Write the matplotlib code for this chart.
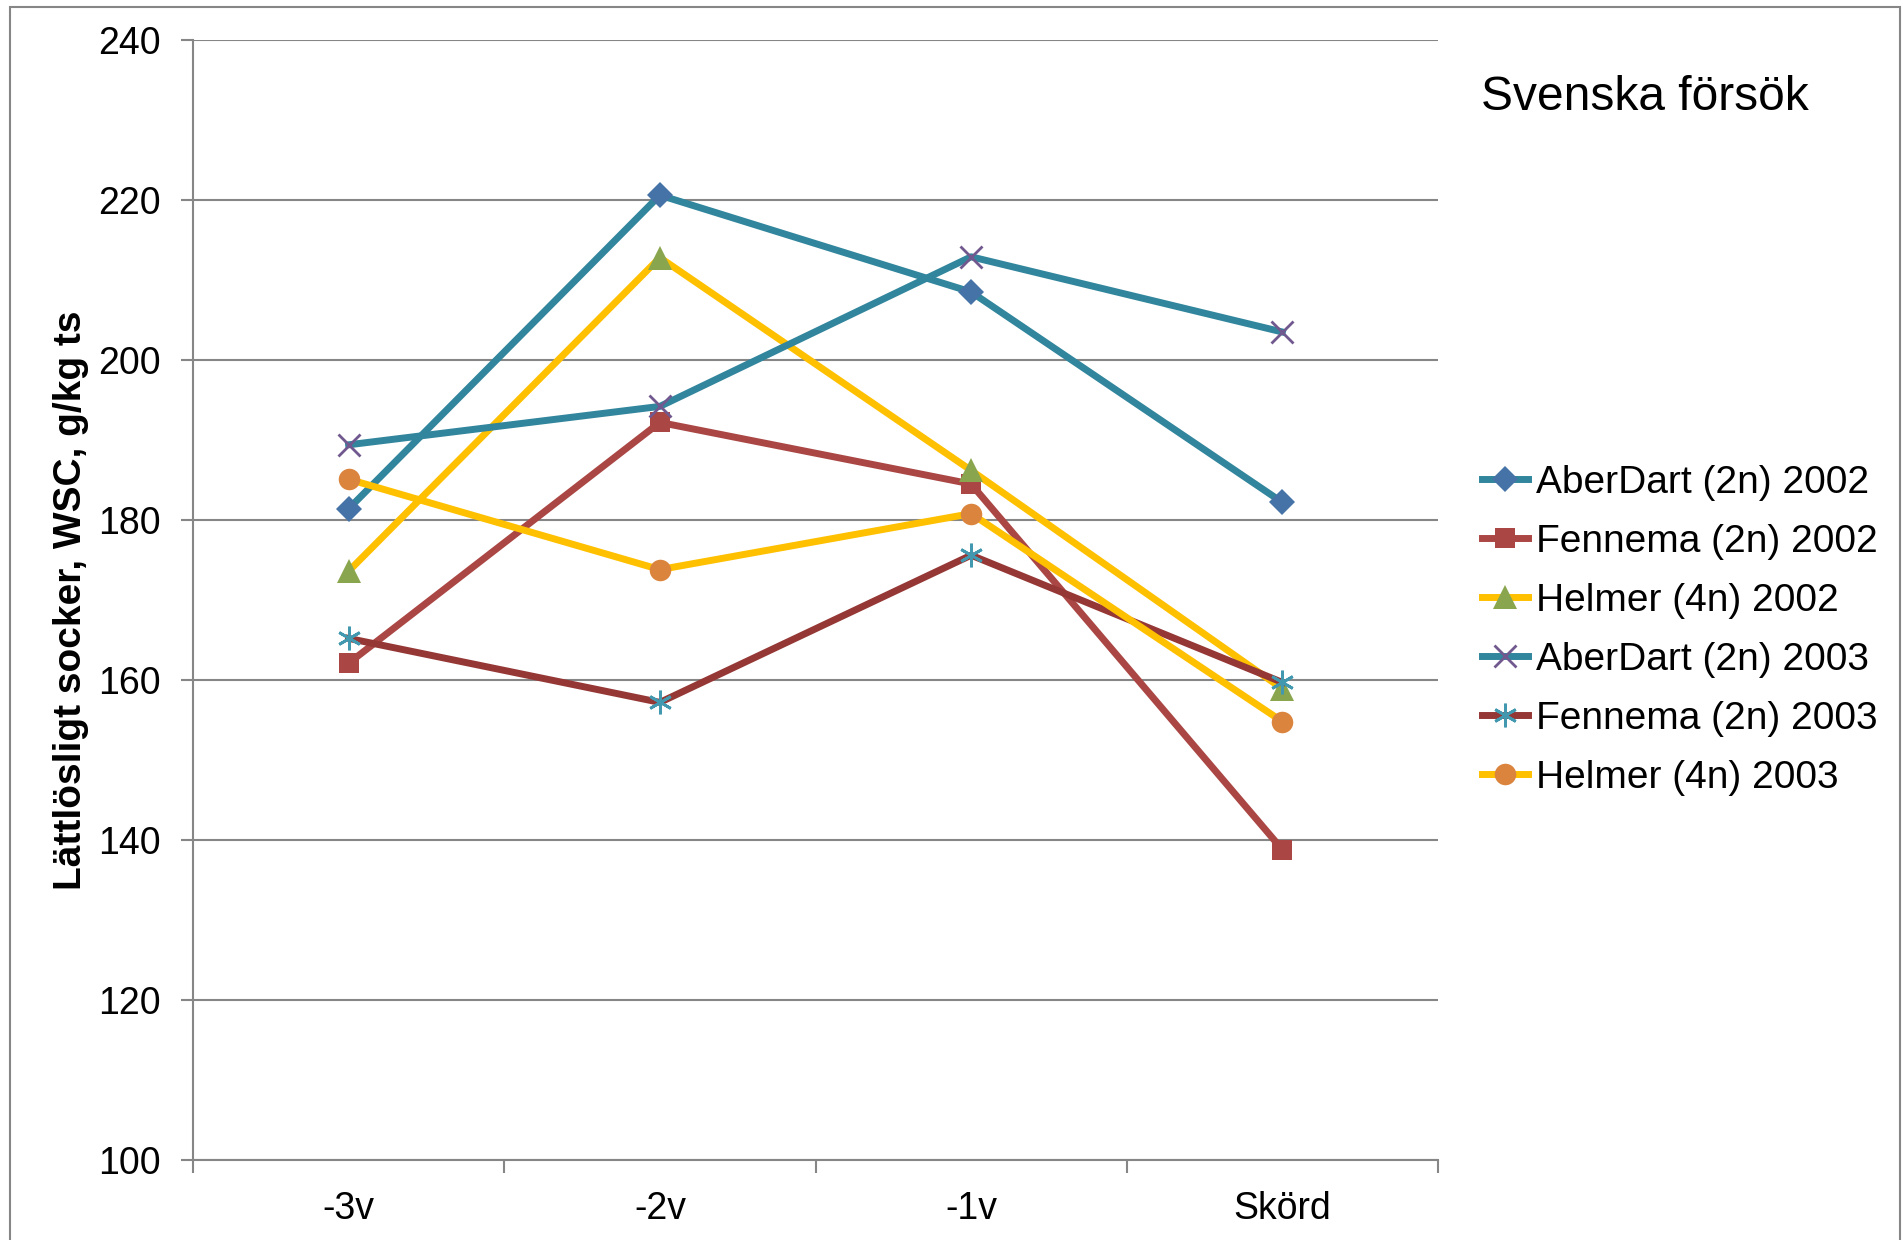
import matplotlib
matplotlib.use('Agg')
import matplotlib.pyplot as plt
from matplotlib.patches import Rectangle
import numpy as np

plt.rcParams['font.family'] = ['Liberation Sans', 'DejaVu Sans']

# --- data ---
categories = ['-3v', '-2v', '-1v', 'Skörd']
aberdart_2002 = [181.4, 220.6, 208.5, 182.2]
fennema_2002 = [162.1, 192.2, 184.5, 138.8]
helmer_2002 = [173.6, 212.8, 186.2, 158.9]
aberdart_2003 = [189.4, 194.2, 212.9, 203.5]
fennema_2003 = [165.2, 157.2, 175.6, 159.7]
helmer_2003 = [185.1, 173.8, 180.8, 154.8]

labels = ['AberDart (2n) 2002', 'Fennema (2n) 2002', 'Helmer (4n) 2002',
          'AberDart (2n) 2003', 'Fennema (2n) 2003', 'Helmer (4n) 2003']
series = [aberdart_2002, fennema_2002, helmer_2002,
          aberdart_2003, fennema_2003, helmer_2003]

# line colour, marker, marker colour, marker size, marker edge width
styles = [
    ('#31859C', 'D', '#4572A7', 13, 0),
    ('#AA4643', 's', '#AA4643', 15, 0),
    ('#FFC000', '^', '#89A54E', 17, 0),
    ('#31859C', 'x', '#71588F', 16, 2.0),
    ('#953735', (6, 2, 0), '#4198AF', 17, 2.0),
    ('#FFC000', 'o', '#DB843D', 15.5, 0),
]

fig = plt.figure(figsize=(19.03, 12.40), dpi=100)
ax = fig.add_axes([193 / 1903, 1 - 1160 / 1240, (1438 - 193) / 1903, 1120 / 1240])

x = np.arange(len(categories))
for vals, lab, (lc, mk, mc, ms, mew) in zip(series, labels, styles):
    if mew:
        ax.plot(x, vals, color=lc, lw=5, marker=mk, markersize=ms,
                markeredgecolor=mc, markeredgewidth=mew, label=lab, zorder=3)
    else:
        ax.plot(x, vals, color=lc, lw=5, marker=mk, markersize=ms,
                markerfacecolor=mc, markeredgecolor=mc, markeredgewidth=0,
                label=lab, zorder=3)

ax.set_xlim(-0.5, len(categories) - 0.5)
ax.set_ylim(100, 240)
ax.set_yticks(np.arange(100, 241, 20))
ax.set_xticks(np.arange(-0.5, len(categories), 1.0))
ax.set_xticklabels([])
ax.set_xticks(x, minor=True)
ax.set_xticklabels(categories, minor=True)
ax.tick_params(axis='x', which='minor', length=0, pad=22, labelsize=27)
ax.tick_params(axis='x', which='major', length=9, width=1.5, color='#868686')
ax.tick_params(axis='y', length=9, width=1.5, color='#868686', labelsize=27, pad=14)

ax.grid(axis='y', color='#868686', lw=1.5)
ax.set_axisbelow(True)
for s in ['top', 'right']:
    ax.spines[s].set_visible(False)
for s in ['left', 'bottom']:
    ax.spines[s].set_color('#868686')
    ax.spines[s].set_linewidth(1.5)

ax.set_ylabel('Lättlösligt socker, WSC, g/kg ts', fontsize=28, fontweight='bold')
ax.yaxis.set_label_coords(-0.0835, 0.5)

fig.text(1481 / 1903, 1 - 97 / 1240, 'Svenska försök', fontsize=34.5, va='center', ha='left')

leg = ax.legend(loc='upper left', bbox_to_anchor=(1482 / 1903, 1 - 465 / 1240),
                bbox_transform=fig.transFigure, frameon=False, fontsize=28,
                handlelength=1.18, handletextpad=0.22, labelspacing=0.59,
                borderpad=0, borderaxespad=0)

# chart area border
fig.patches.append(Rectangle((10 / 1903, -0.01), (1900 - 10) / 1903, 1 - 7 / 1240 + 0.01,
                             transform=fig.transFigure, fill=False,
                             edgecolor='#868686', lw=1.5))

fig.savefig('out.png', dpi=100)
